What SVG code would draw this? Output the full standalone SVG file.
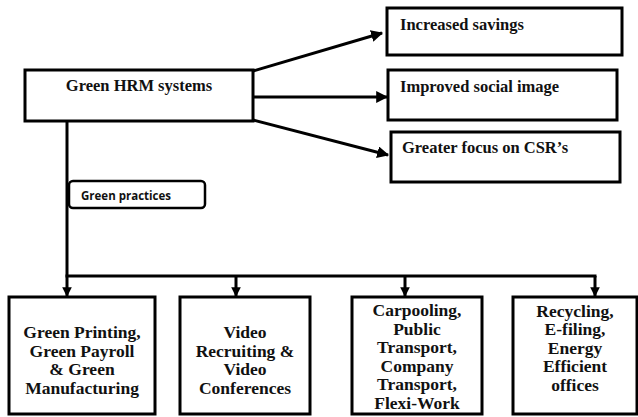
<svg xmlns="http://www.w3.org/2000/svg" width="638" height="417" viewBox="0 0 638 417">
<style>
.box{fill:#fff;stroke:#000;stroke-width:3}
.rbox{fill:#fff;stroke:#000;stroke-width:2.5}
.ln{fill:none;stroke:#000;stroke-width:3}
.t{font-family:"Liberation Serif","Times New Roman",serif;font-weight:bold;font-size:16.5px;fill:#111}
.b{font-family:"Liberation Serif","Times New Roman",serif;font-weight:bold;font-size:17.5px;fill:#111;text-anchor:middle}
.s{font-family:"Open Sans","Liberation Sans",sans-serif;font-weight:bold;font-size:11.5px;fill:#111}
</style>
<defs>
<marker id="ah" viewBox="0 0 10 10" refX="9" refY="5" markerWidth="4" markerHeight="4" markerUnits="strokeWidth" orient="auto">
<path d="M0,0 L10,5 L0,10 z" fill="#000"/>
</marker>
<marker id="ad" viewBox="0 0 10 10" refX="9" refY="5" markerWidth="3.2" markerHeight="3.2" markerUnits="strokeWidth" orient="auto">
<path d="M0,0 L10,5 L0,10 z" fill="#000"/>
</marker>
</defs>
<g id="connectors">
<line class="ln" x1="253" y1="71" x2="382" y2="33" marker-end="url(#ah)"/>
<line class="ln" x1="253" y1="97" x2="387" y2="97" marker-end="url(#ah)"/>
<line class="ln" x1="253" y1="120" x2="388" y2="155" marker-end="url(#ah)"/>
<line class="ln" x1="67" y1="121" x2="67" y2="296" marker-end="url(#ad)"/>
<line class="ln" x1="65.5" y1="276" x2="596.5" y2="276"/>
<line class="ln" x1="236" y1="276" x2="236" y2="296" marker-end="url(#ad)"/>
<line class="ln" x1="405" y1="276" x2="405" y2="296" marker-end="url(#ad)"/>
<line class="ln" x1="595" y1="276" x2="595" y2="296" marker-end="url(#ad)"/>
</g>
<g id="green-hrm">
<rect class="box" x="25" y="70" width="228" height="51"/>
<text class="t" x="139" y="91" text-anchor="middle">Green HRM systems</text>
</g>
<g id="increased-savings">
<rect class="box" x="387" y="8" width="235" height="47"/>
<text class="t" x="400" y="30">Increased savings</text>
</g>
<g id="improved-social-image">
<rect class="box" x="388" y="70" width="229" height="50"/>
<text class="t" x="400" y="92">Improved social image</text>
</g>
<g id="greater-focus">
<rect class="box" x="391" y="132" width="229" height="50"/>
<text class="t" x="402" y="153">Greater focus on CSR’s</text>
</g>
<g id="green-practices">
<rect class="rbox" x="69" y="181" width="136" height="27" rx="4"/>
<text class="s" x="81" y="199.5">Green practices</text>
</g>
<g id="printing">
<rect class="box" x="9" y="297" width="146" height="117"/>
<text class="b" x="82" y="338">Green Printing,</text>
<text class="b" x="82" y="356.5">Green Payroll</text>
<text class="b" x="82" y="375">&amp; Green</text>
<text class="b" x="82" y="393.5">Manufacturing</text>
</g>
<g id="video">
<rect class="box" x="180" y="297" width="130" height="117"/>
<text class="b" x="245" y="338">Video</text>
<text class="b" x="245" y="356.5">Recruiting &amp;</text>
<text class="b" x="245" y="375">Video</text>
<text class="b" x="245" y="393.5">Conferences</text>
</g>
<g id="carpooling">
<rect class="box" x="352" y="297" width="130" height="117"/>
<text class="b" x="417" y="316">Carpooling,</text>
<text class="b" x="417" y="334.5">Public</text>
<text class="b" x="417" y="353">Transport,</text>
<text class="b" x="417" y="371.5">Company</text>
<text class="b" x="417" y="390">Transport,</text>
<text class="b" x="417" y="408.5">Flexi-Work</text>
</g>
<g id="recycling">
<rect class="box" x="513" y="297" width="124" height="117"/>
<text class="b" x="575" y="316.5">Recycling,</text>
<text class="b" x="575" y="335">E-filing,</text>
<text class="b" x="575" y="353.5">Energy</text>
<text class="b" x="575" y="372">Efficient</text>
<text class="b" x="575" y="390.5">offices</text>
</g>
</svg>
